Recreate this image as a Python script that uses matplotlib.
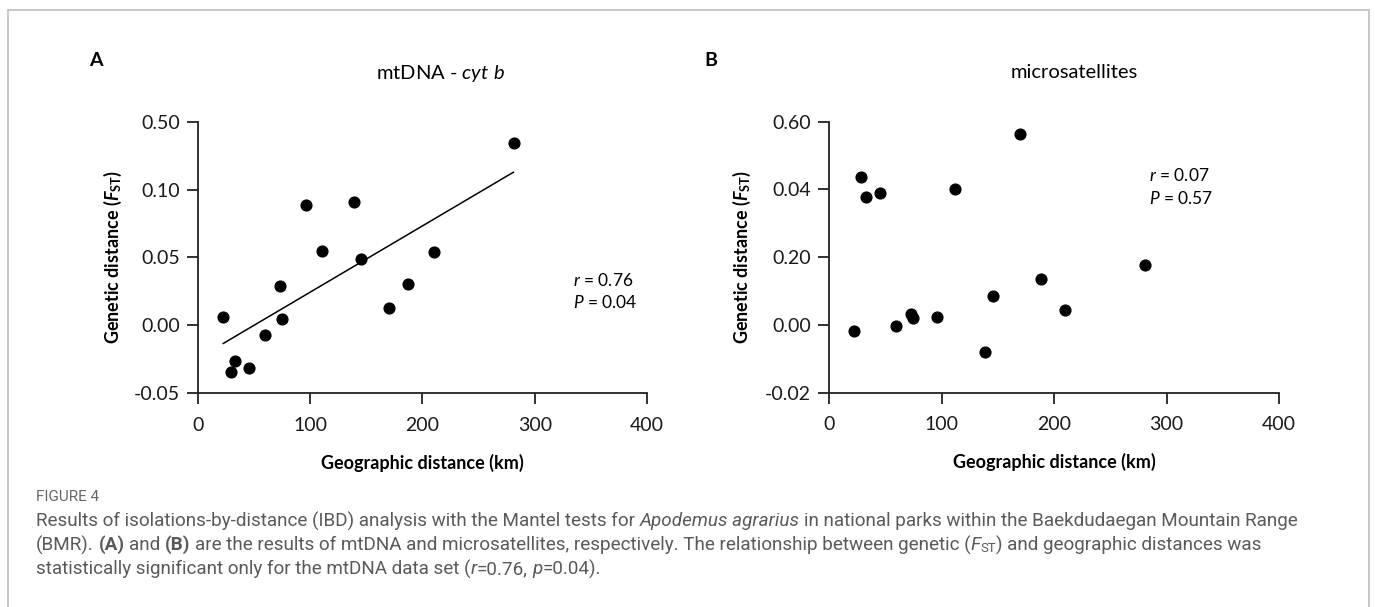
import matplotlib
matplotlib.use("Agg")
import matplotlib.pyplot as plt
from matplotlib import font_manager
from matplotlib.patches import Rectangle

W, H = 1375, 607

# geographic distance (km), same pairs in both panels
dist_a = [22.5, 29, 33, 45.7, 59.7, 73, 75, 96.5, 110.8, 138.8, 145.2, 170.1, 187.5, 210, 281.6]
fst_a = [0.0064, -0.0341, -0.0263, -0.0314, -0.0069, 0.0289, 0.0044, 0.0888,
         0.0547, 0.0910, 0.0488, 0.0130, 0.0307, 0.0539, 0.1343]
fit_x = [22.5, 281]
fit_y = [-0.0133, 0.1128]

dist_b = [22.5, 28.5, 33.1, 45.4, 59.9, 72.5, 75, 95.8, 111.6, 139.1, 145.8, 170.1, 188, 210.2, 281.3]
fst_b = [-0.0017, 0.0438, 0.0378, 0.0390, -0.0004, 0.0033, 0.0021, 0.0022,
         0.0402, -0.0080, 0.0086, 0.0565, 0.0137, 0.0043, 0.0177]

xticks = [0, 100, 200, 300, 400]
yticks_a = [-0.05, 0.00, 0.05, 0.10, 0.15]
ylabels_a = ["-0.05", "0.00", "0.05", "0.10", "0.50"]   # as printed in the figure
yticks_b = [-0.02, 0.00, 0.02, 0.04, 0.06]
ylabels_b = ["-0.02", "0.00", "0.20", "0.04", "0.60"]   # as printed in the figure

names = {f.name for f in font_manager.fontManager.ttflist}
chart_font = "Lato" if "Lato" in names else "DejaVu Sans"
cap_font = "Liberation Sans Narrow" if "Liberation Sans Narrow" in names else "Roboto"

plt.rcParams["font.family"] = chart_font
plt.rcParams["mathtext.fontset"] = "custom"
plt.rcParams["mathtext.rm"] = chart_font
plt.rcParams["mathtext.it"] = chart_font + ":italic"
plt.rcParams["mathtext.bf"] = chart_font + ":bold"
plt.rcParams["mathtext.bfit"] = chart_font + ":bold:italic"

fig = plt.figure(figsize=(W / 100, H / 100), dpi=100)


def px_axes(l, r, top, bot):
    return fig.add_axes([l / W, 1 - bot / H, (r - l) / W, (bot - top) / H])


def style(ax, yt, yl, ylab_x):
    for s in ["top", "right"]:
        ax.spines[s].set_visible(False)
    for s in ["left", "bottom"]:
        ax.spines[s].set_color("#222222")
        ax.spines[s].set_linewidth(1.3)
    ax.set_xlim(0, 400)
    ax.set_ylim(yt[0], yt[-1])
    ax.set_xticks(xticks)
    ax.set_yticks(yt)
    ax.set_yticklabels(yl)
    ax.tick_params(direction="out", length=8, width=1.3, color="#222222",
                   labelsize=14, labelcolor="#1a1a1a")
    ax.tick_params(axis="x", pad=9)
    ax.tick_params(axis="y", pad=5)
    ax.set_xlabel("Geographic distance (km)", fontsize=13, fontweight="bold", va="center")
    ax.set_ylabel(r"Genetic distance ($\mathbfit{F}_{\mathbf{ST}}$)", fontsize=13,
                  fontweight="bold", va="center", ha="center")
    ax.xaxis.set_label_coords(0.5, -0.255)
    ax.yaxis.set_label_coords(ylab_x, 0.5)


axA = px_axes(198, 647, 121.7, 393.3)
axA.scatter(dist_a, fst_a, s=60, color="black", zorder=3, clip_on=False)
axA.plot(fit_x, fit_y, color="black", lw=1.1)
style(axA, yticks_a, ylabels_a, -0.189)
axA.text(334, 0.0334, r"$\mathit{r}$ = 0.76", fontsize=12.5, va="center")
axA.text(334, 0.0165, r"$\mathit{P}$ = 0.04", fontsize=12.5, va="center")

axB = px_axes(829, 1279, 121.7, 392.7)
axB.scatter(dist_b, fst_b, s=60, color="black", zorder=3, clip_on=False)
style(axB, yticks_b, ylabels_b, -0.193)
axB.text(284.5, 0.0442, r"$\mathit{r}$ = 0.07", fontsize=12.5, va="center")
axB.text(284.5, 0.0374, r"$\mathit{P}$ = 0.57", fontsize=12.5, va="center")

fig.text(96 / W, 1 - 61 / H, "A", fontsize=14, fontweight="bold", ha="center", va="center")
fig.text(711 / W, 1 - 61 / H, "B", fontsize=14, fontweight="bold", ha="center", va="center")
fig.text(440 / W, 1 - 73 / H, r"mtDNA - $\mathit{cyt\ b}$", fontsize=14.5, ha="center", va="center")
fig.text(1074 / W, 1 - 73 / H, "microsatellites", fontsize=14.5, ha="center", va="center")

# frame around the figure (open at the bottom edge)
fig.patches.append(Rectangle((8 / W, -0.05), (1369 - 8) / W, 1.05 - 10 / H,
                             transform=fig.transFigure, fill=False,
                             edgecolor="#c4c4c4", lw=1.3))

# caption, laid out run by run
renderer = fig.canvas.get_renderer()
cap_color = "#5a5a5a"


def width_of(s, **kw):
    t = fig.text(0, 0, s, **kw)
    w = t.get_window_extent(renderer).width
    t.remove()
    return w


def draw_runs(x, y, runs, size):
    for s, st in runs:
        kw = dict(fontsize=size, family=cap_font, color=cap_color)
        sub = False
        if st == "i":
            kw["style"] = "italic"
        elif st == "b":
            kw["weight"] = "bold"
        elif st == "sub":
            kw["fontsize"] = size * 0.7
            sub = True
        sp = width_of("x x", **kw) - width_of("xx", **kw)
        lead = len(s) - len(s.lstrip(" "))
        trail = len(s) - len(s.rstrip(" "))
        x += lead * sp
        core = s.strip(" ")
        if core:
            yy = y + (3 if sub else 0)
            t = fig.text(x / W, 1 - yy / H, core, va="center", **kw)
            x += t.get_window_extent(renderer).width
        x += trail * sp
    return x


cap_size = 13.55
x0 = 36
fig.text(x0 / W, 1 - 497 / H, "FIGURE 4", fontsize=11, family=cap_font,
         color="#666666", va="center")
draw_runs(x0, 521, [("Results of isolations-by-distance (IBD) analysis with the Mantel tests for ", ""),
                    ("Apodemus agrarius", "i"),
                    (" in national parks within the Baekdudaegan Mountain Range", "")], cap_size)
draw_runs(x0, 545, [("(BMR). ", ""), ("(A)", "b"), (" and ", ""), ("(B)", "b"),
                    (" are the results of mtDNA and microsatellites, respectively. The relationship between genetic (", ""),
                    ("F", "i"), ("ST", "sub"),
                    (") and geographic distances was", "")], cap_size)
draw_runs(x0, 569, [("statistically significant only for the mtDNA data set (", ""), ("r", "i"),
                    ("=0.76, ", ""), ("p", "i"), ("=0.04).", "")], cap_size)

fig.savefig("out.png", dpi=100)
